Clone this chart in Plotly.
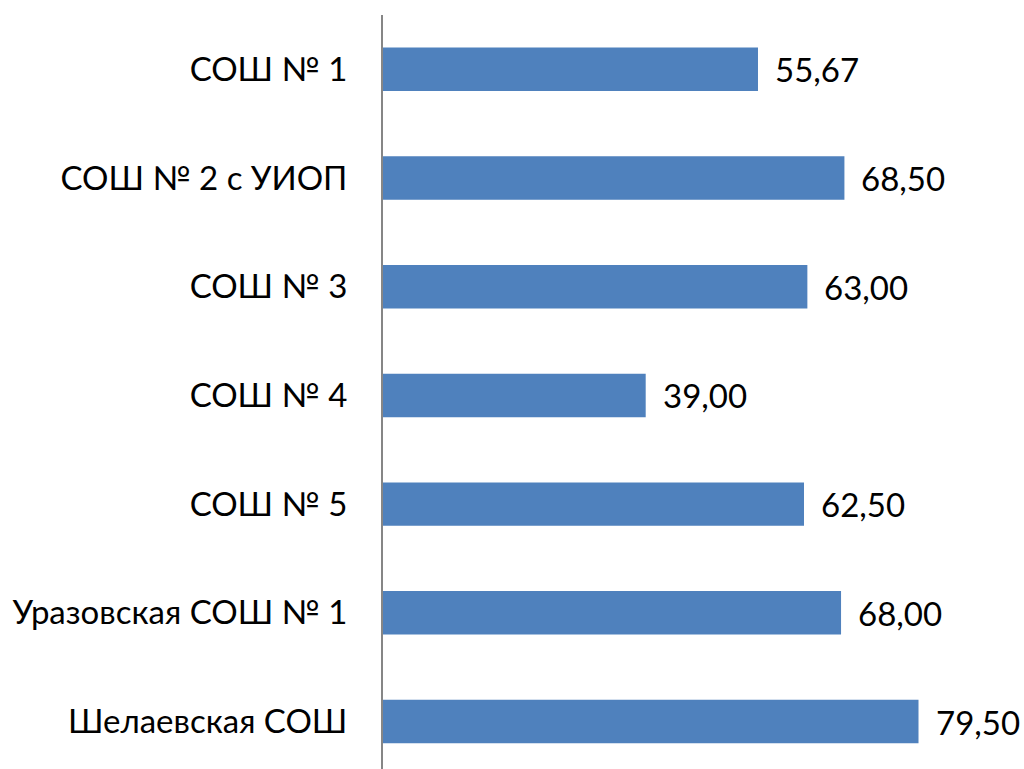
import plotly.graph_objects as go

categories = ["СОШ № 1", "СОШ № 2 с УИОП", "СОШ № 3", "СОШ № 4", "СОШ № 5",
              "Уразовская СОШ № 1", "Шелаевская СОШ"]
values = [55.67, 68.50, 63.00, 39.00, 62.50, 68.00, 79.50]
labels = [f"{v:.2f}".replace(".", ",") for v in values]

FONT = "Lato"
fig = go.Figure()
fig.add_trace(go.Bar(
    x=values, y=categories, orientation="h",
    marker=dict(color="#4F81BD", line=dict(width=0)),
    width=0.4, hoverinfo="skip",
))
for c, v, t in zip(categories, values, labels):
    fig.add_annotation(x=v, y=c, text=t, showarrow=False, xanchor="left",
                       xshift=15, font=dict(family=FONT, size=33, color="#000000"))

fig.update_layout(
    width=1024, height=769,
    margin=dict(l=383, r=0, t=15, b=0, autoexpand=False),
    paper_bgcolor="white", plot_bgcolor="white",
    showlegend=False,
    xaxis=dict(range=[0, 95.16], visible=False, showgrid=False, zeroline=False,
               automargin=False),
    yaxis=dict(categoryorder="array", categoryarray=categories,
               range=[6.437, -0.5], showgrid=False, zeroline=False,
               showline=True, linecolor="#868686", linewidth=2,
               ticks="", ticklabelstandoff=27, automargin=False,
               tickfont=dict(family=FONT, size=33, color="#000000")),
)
fig.write_html("out.html",
               config={"displayModeBar": False},
               post_script="document.body.style.margin='0';"
                           "document.body.style.overflow='hidden';")
